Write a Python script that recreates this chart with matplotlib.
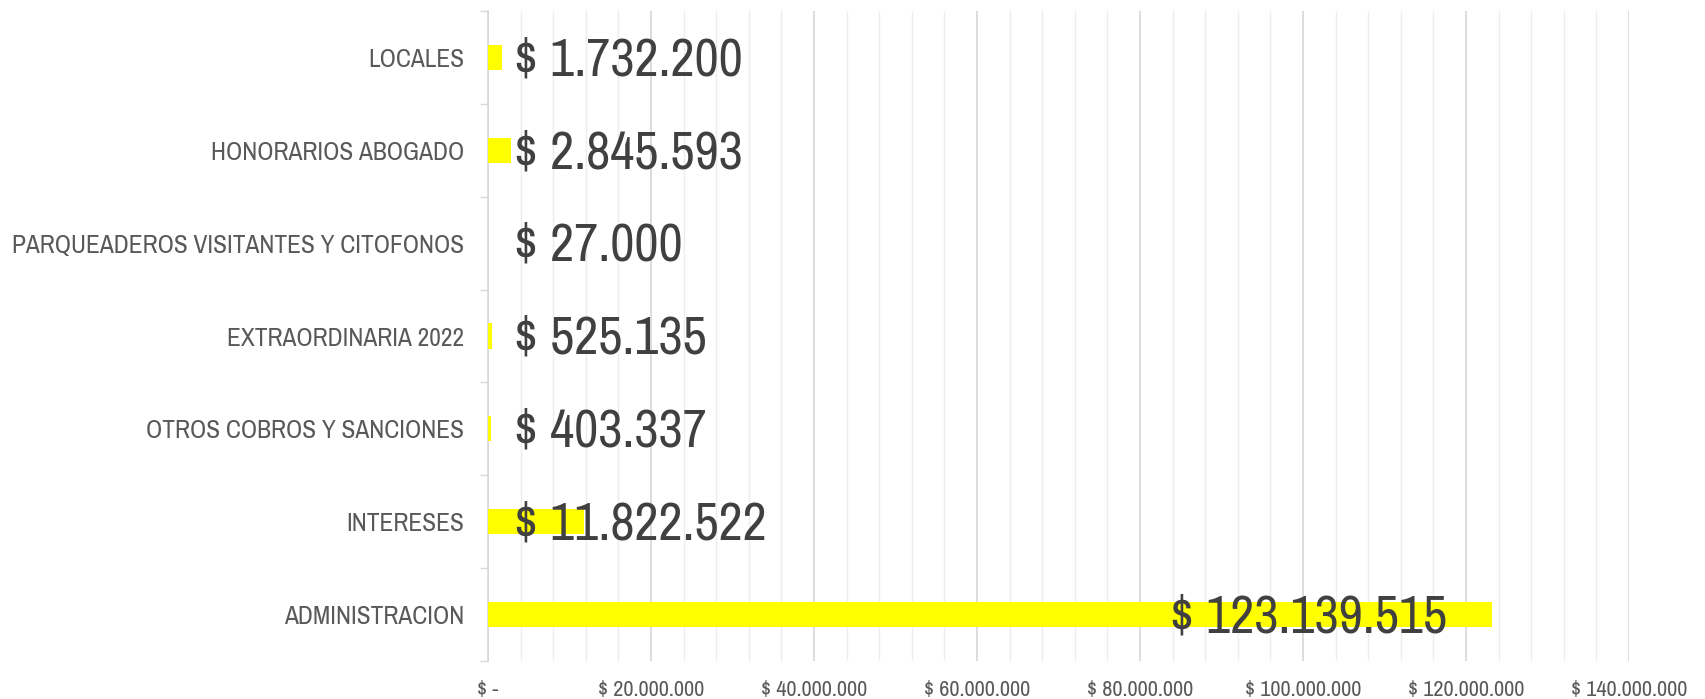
import matplotlib
matplotlib.use("Agg")
import matplotlib.pyplot as plt
from matplotlib.ticker import MultipleLocator, FuncFormatter
import numpy as np

# data, bottom to top as drawn
categorias = ["ADMINISTRACION", "INTERESES", "OTROS COBROS Y SANCIONES",
              "EXTRAORDINARIA 2022", "PARQUEADEROS VISITANTES Y CITOFONOS",
              "HONORARIOS ABOGADO", "LOCALES"]
valores = [123139515, 11822522, 403337, 525135, 27000, 2845593, 1732200]

plt.rcParams['font.family'] = ['Archivo Narrow', 'Liberation Sans', 'DejaVu Sans']


def pesos(v):
    return "$ " + f"{int(v):,}".replace(",", ".")


fig = plt.figure(figsize=(17.05, 6.99), dpi=100)
ax = fig.add_axes([488/1705, 1 - 661/699, (1629-488)/1705, (661-11)/699])

y = np.arange(len(categorias))
ax.barh(y, valores, height=0.27, color="#FFFF00", zorder=3)

ax.set_xlim(0, 140e6)
ax.set_ylim(-0.5, len(categorias) - 0.5)
ax.xaxis.set_major_locator(MultipleLocator(20e6))
ax.xaxis.set_minor_locator(MultipleLocator(4e6))
ax.xaxis.set_major_formatter(FuncFormatter(lambda v, p: "$ -" if v == 0 else pesos(v)))
ax.grid(axis="x", which="major", color="#D9D9D9", lw=1.3, zorder=0)
ax.grid(axis="x", which="minor", color="#EDEDED", lw=1.0, zorder=0)
ax.tick_params(axis="x", which="both", length=0, labelsize=16, colors="#595959", pad=14)

ax.set_yticks(y)
ax.set_yticklabels(categorias)
ax.set_yticks(np.arange(-0.5, len(categorias)), minor=True)
ax.tick_params(axis="y", which="major", length=0, labelsize=18.3, colors="#595959", pad=17)
ax.tick_params(axis="y", which="minor", length=6, color="#D9D9D9", width=1)

for s in ["top", "right", "bottom"]:
    ax.spines[s].set_visible(False)
ax.spines["left"].set_color("#D9D9D9")
ax.spines["left"].set_linewidth(1.2)

tope = max(valores)
for yi, v in zip(y, valores):
    if v > 0.5 * tope:
        ax.annotate(pesos(v), (v, yi), xytext=(-32, -2), textcoords="offset points",
                    ha="right", va="center", fontsize=38, color="#404040", zorder=4)
    else:
        ax.annotate(pesos(v), (0, yi), xytext=(19, -2), textcoords="offset points",
                    ha="left", va="center", fontsize=38, color="#404040", zorder=4)

fig.savefig("out.png", dpi=100)
